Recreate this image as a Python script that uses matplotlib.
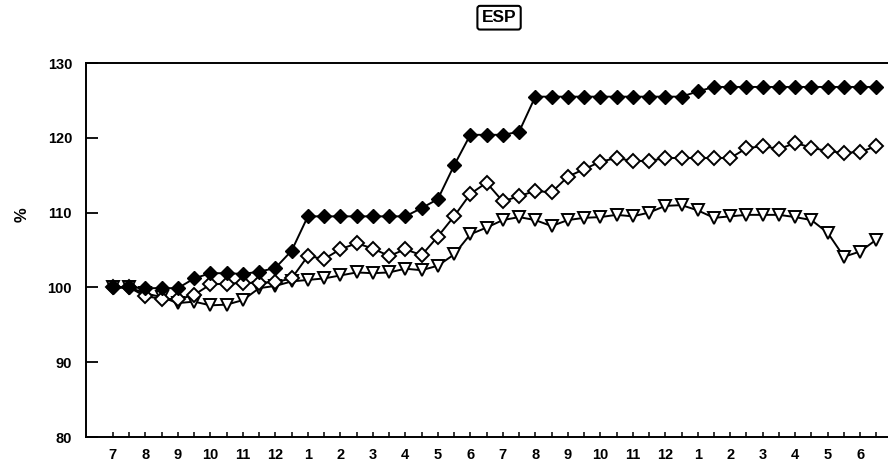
import numpy as np
import matplotlib
matplotlib.use("Agg")
import matplotlib.pyplot as plt

plt.rcParams['font.family'] = ['Liberation Sans', 'DejaVu Sans']

# month labels, one point every half month (label on every other tick)
months = [7, 8, 9, 10, 11, 12, 1, 2, 3, 4, 5, 6, 7, 8, 9, 10, 11, 12, 1, 2, 3, 4, 5, 6]

# filled diamonds
esp_a = [100, 100, 99.9, 99.9, 99.9, 101.2, 101.9, 101.9, 101.8, 102.1, 102.6, 104.9,
         109.5, 109.5, 109.5, 109.5, 109.5, 109.5, 109.5, 110.6, 111.8, 116.3, 120.4, 120.4,
         120.4, 120.8, 125.5, 125.5, 125.5, 125.5, 125.5, 125.5, 125.5, 125.5, 125.5, 125.5,
         126.2, 126.8, 126.8, 126.8, 126.8, 126.8, 126.8, 126.8, 126.8, 126.8, 126.8, 126.8]

# open diamonds
esp_b = [100, 100, 98.8, 98.5, 98.4, 99.0, 100.4, 100.5, 100.6, 100.6, 100.7, 101.2,
         104.2, 103.8, 105.1, 105.9, 105.2, 104.2, 105.1, 104.3, 106.8, 109.5, 112.5, 114.0,
         111.5, 112.2, 112.9, 112.7, 114.8, 115.8, 116.8, 117.3, 116.9, 116.9, 117.3, 117.3,
         117.3, 117.3, 117.3, 118.6, 118.9, 118.5, 119.3, 118.7, 118.2, 118.0, 118.1, 118.9]

# open down triangles
esp_c = [100, 100, 99.2, 98.7, 97.9, 98.1, 97.6, 97.7, 98.3, 99.9, 100.2, 100.8,
         101.0, 101.2, 101.6, 102.0, 101.9, 102.0, 102.5, 102.3, 102.9, 104.4, 107.1, 108.0,
         109.0, 109.4, 109.0, 108.2, 109.0, 109.3, 109.4, 109.7, 109.5, 110.0, 110.9, 111.0,
         110.3, 109.3, 109.5, 109.7, 109.7, 109.7, 109.4, 109.0, 107.3, 104.1, 104.8, 106.4]

x = np.arange(len(esp_a))

fig = plt.figure(figsize=(8.88, 4.66), dpi=100)
ax = fig.add_axes([0.0968, 0.0622, 0.903, 0.8026])

ax.plot(x, esp_c, color='black', lw=1.4, marker='v', ms=8, mfc='white', mec='black', mew=1.4, zorder=2)
ax.plot(x, esp_b, color='black', lw=1.4, marker='D', ms=7, mfc='white', mec='black', mew=1.4, zorder=3)
ax.plot(x, esp_a, color='black', lw=1.4, marker='D', ms=7, mfc='black', mec='black', zorder=4)

ax.set_xlim(-1.66, 47.7)
ax.set_ylim(80, 130)
ax.set_yticks([80, 90, 100, 110, 120, 130])
ax.set_xticks(x)
ax.set_xticklabels([str(months[i // 2]) if i % 2 == 0 else '' for i in x])

ax.tick_params(axis='y', direction='in', length=8.5, width=1.3, labelsize=10.5, pad=10)
ax.tick_params(axis='x', direction='in', length=3.5, width=1.1, labelsize=10.5, pad=8)
for lab in ax.get_xticklabels() + ax.get_yticklabels():
    lab.set_fontweight('bold')
for s in ['left', 'bottom', 'top']:
    ax.spines[s].set_linewidth(1.4)
ax.spines['right'].set_visible(False)

ax.set_ylabel('%', fontsize=12, fontweight='bold', rotation=90)
ax.yaxis.set_label_coords(-0.07, 0.594)

fig.text(0.562, 0.962, 'ESP', fontsize=12.5, fontweight='bold', ha='center', va='center',
         bbox=dict(boxstyle='round,pad=0.25,rounding_size=0.15', fc='white', ec='black', lw=1.5))

fig.savefig('out.png', dpi=100)
